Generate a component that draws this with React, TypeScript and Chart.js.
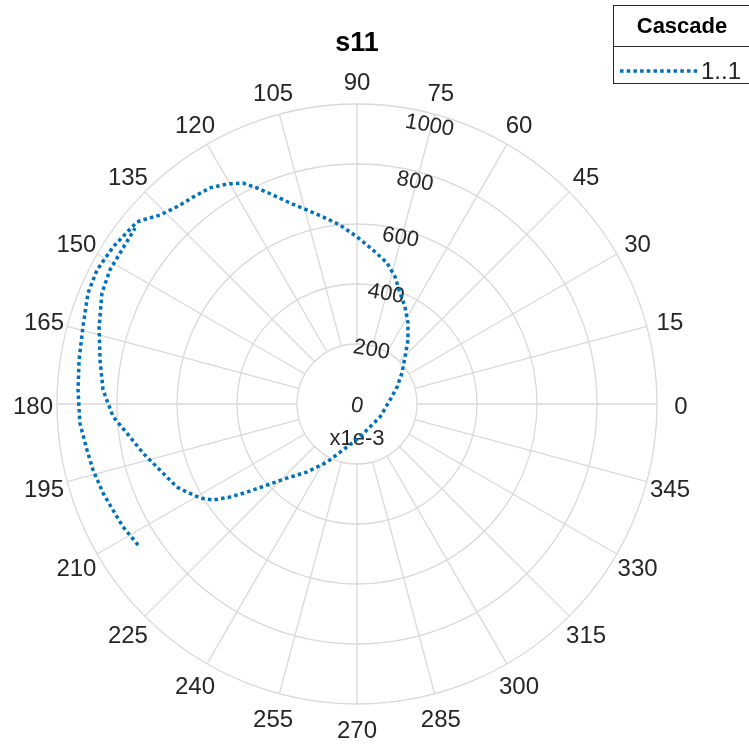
import React, { useEffect, useRef } from "react";
import { Chart, registerables } from "chart.js";

Chart.register(...registerables);

const chartTitle = "s11";
const legendTitle = "Cascade";
const seriesName = "1..1";
const rExponentLabel = "x1e-3";

const thetaTicks = [0, 15, 30, 45, 60, 75, 90, 105, 120, 135, 150, 165, 180, 195, 210, 225, 240, 255, 270, 285, 300, 315, 330, 345];
const rTicks = [0, 200, 400, 600, 800, 1000];
const rMax = 1000;

// theta in degrees, r in units of 1e-3
const thetaDeg = [
  212.8, 207.7, 203.5, 199.3, 194.0, 189.7, 183.9, 177.1, 171.0, 164.3,
  157.6, 152.7, 147.2, 140.4, 139.3, 136.2, 132.4, 128.4, 124.2, 120.6,
  117.3, 114.8, 111.9, 108.4, 104.5, 100.3, 95.4, 90.0, 84.1, 78.0,
  73.3, 68.8, 63.7, 57.8, 51.5, 44.4, 34.6, 23.0, 6.9, 330.5,
  275.2, 253.1, 242.7, 233.7, 226.6, 222.0, 218.7, 216.2, 213.7, 210.9,
  207.4, 204.8, 198.5, 192.9, 187.2, 183.0, 176.8, 170.3, 163.4, 156.5,
  151.5, 145.6, 141.6,
];
const rValue = [
  868, 881, 887, 897, 907, 913, 926, 931, 938, 949,
  970, 975, 967, 952, 941, 910, 890, 880, 871, 852,
  829, 793, 751, 706, 668, 634, 599, 557, 516, 481,
  442, 397, 361, 319, 273, 224, 182, 145, 111, 88,
  110, 160, 218, 281, 340, 404, 470, 525, 577, 610,
  638, 661, 693, 732, 773, 814, 848, 869, 897, 927,
  937, 938, 944,
];

const FONT = '"Liberation Sans", Arial, Helvetica, sans-serif';
const TEXT = "#262626";
const GRID = "#D9D9D9";
const LINE = "#0072BD";
const DASH = [3.5, 3.2];

const polarPlugin = {
  id: "polarPlugin",
  beforeDatasetsDraw(chart: any) {
    const ctx = chart.ctx;
    const xs = chart.scales.x;
    const ys = chart.scales.y;
    const cx = xs.getPixelForValue(0);
    const cy = ys.getPixelForValue(0);
    const k = (xs.getPixelForValue(rMax) - cx) / rMax;
    ctx.save();
    ctx.strokeStyle = GRID;
    ctx.lineWidth = 1.3;
    for (const t of rTicks) {
      if (t <= 0) continue;
      ctx.beginPath();
      ctx.arc(cx, cy, t * k, 0, Math.PI * 2);
      ctx.stroke();
    }
    const r0 = rTicks[1] * k;
    const r1 = rMax * k;
    for (const a of thetaTicks) {
      const rad = (a * Math.PI) / 180;
      ctx.beginPath();
      ctx.moveTo(cx + r0 * Math.cos(rad), cy - r0 * Math.sin(rad));
      ctx.lineTo(cx + r1 * Math.cos(rad), cy - r1 * Math.sin(rad));
      ctx.stroke();
    }
    ctx.fillStyle = TEXT;
    ctx.textAlign = "center";
    ctx.textBaseline = "middle";
    ctx.font = `24px ${FONT}`;
    for (const a of thetaTicks) {
      const rad = (a * Math.PI) / 180;
      const rr = r1 + 24;
      ctx.fillText(String(a), cx + rr * Math.cos(rad), cy - rr * Math.sin(rad) + 3);
    }
    ctx.font = `22px ${FONT}`;
    const la = (75.5 * Math.PI) / 180;
    for (const t of rTicks) {
      const rr = t * k * 0.965;
      ctx.save();
      ctx.translate(cx + rr * Math.cos(la), cy - rr * Math.sin(la) + 2);
      ctx.rotate((10 * Math.PI) / 180);
      ctx.fillText(String(t), 0, 0);
      ctx.restore();
    }
    ctx.fillText(rExponentLabel, cx, cy + 35);
    ctx.restore();
  },
  afterDraw(chart: any) {
    const ctx = chart.ctx;
    ctx.save();
    ctx.fillStyle = "#000000";
    ctx.textAlign = "center";
    ctx.textBaseline = "middle";
    ctx.font = `bold 27px ${FONT}`;
    ctx.fillText(chartTitle, 357, 44);
    ctx.fillStyle = "#FFFFFF";
    ctx.fillRect(613, 5, 150, 78);
    ctx.strokeStyle = "#262626";
    ctx.lineWidth = 1;
    ctx.strokeRect(613.5, 5.5, 150, 78);
    ctx.beginPath();
    ctx.moveTo(613.5, 46.5);
    ctx.lineTo(760, 46.5);
    ctx.stroke();
    ctx.fillStyle = "#000000";
    ctx.font = `bold 22px ${FONT}`;
    ctx.fillText(legendTitle, 682, 27);
    ctx.strokeStyle = LINE;
    ctx.lineWidth = 3.5;
    ctx.setLineDash(DASH);
    ctx.beginPath();
    ctx.moveTo(620, 71);
    ctx.lineTo(699, 71);
    ctx.stroke();
    ctx.setLineDash([]);
    ctx.fillStyle = TEXT;
    ctx.textAlign = "left";
    ctx.font = `24px ${FONT}`;
    ctx.fillText(seriesName, 701, 72);
    ctx.restore();
  },
};

export default function App() {
  const ref = useRef<HTMLCanvasElement | null>(null);
  useEffect(() => {
    if (!ref.current) return;
    const points = thetaDeg.map((t, i) => {
      const rad = (t * Math.PI) / 180;
      return { x: rValue[i] * Math.cos(rad), y: rValue[i] * Math.sin(rad) };
    });
    const chart = new Chart(ref.current, {
      type: "scatter",
      data: {
        datasets: [
          {
            label: seriesName,
            data: points,
            showLine: true,
            pointRadius: 0,
            borderColor: LINE,
            borderWidth: 3.5,
            borderDash: DASH,
            tension: 0,
            fill: false,
          } as any,
        ],
      },
      options: {
        animation: false,
        responsive: false,
        devicePixelRatio: 1,
        layout: { padding: { left: 57, right: 92, top: 104, bottom: 43 } },
        scales: {
          x: { type: "linear", min: -rMax, max: rMax, display: false },
          y: { type: "linear", min: -rMax, max: rMax, display: false },
        },
        plugins: {
          legend: { display: false },
          tooltip: { enabled: false },
          title: { display: false },
        },
      },
      plugins: [polarPlugin],
    });
    return () => chart.destroy();
  }, []);
  return (
    <div style={{ position: "absolute", left: 0, top: 0, width: 749, height: 747, background: "#fff" }}>
      <canvas ref={ref} width={749} height={747} />
    </div>
  );
}
